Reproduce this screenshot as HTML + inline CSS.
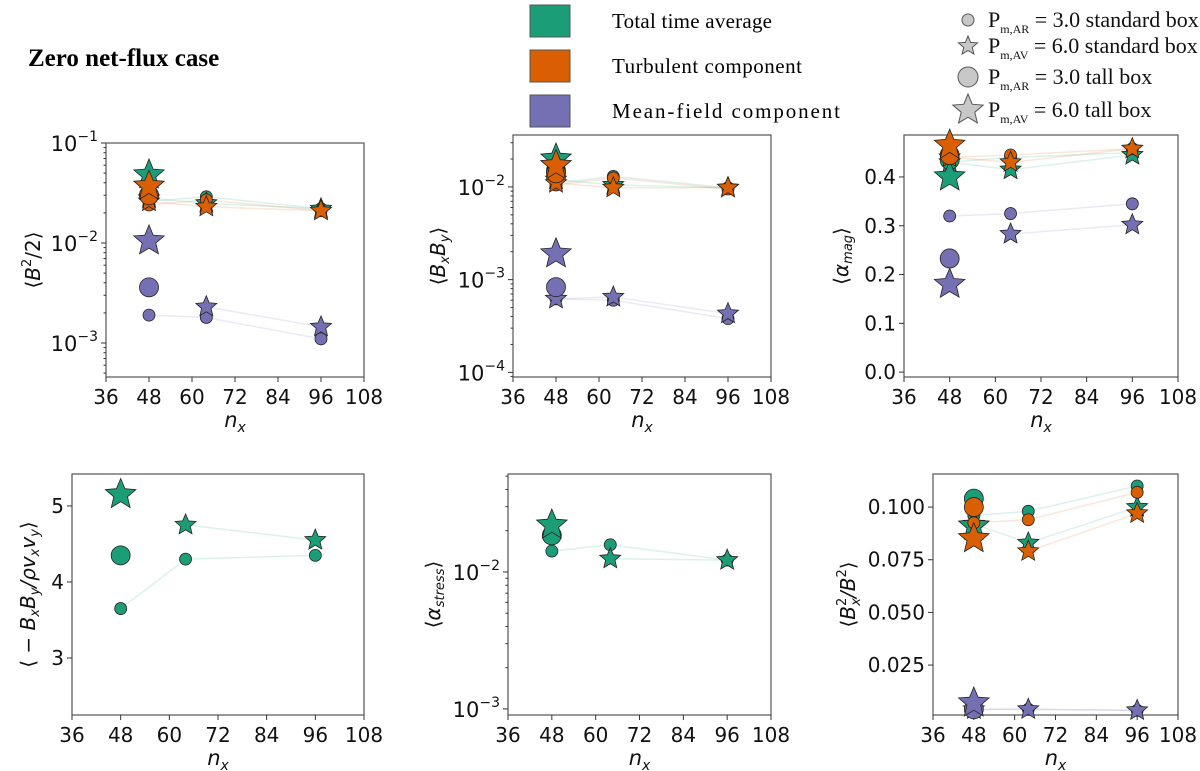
<!DOCTYPE html>
<html><head><meta charset="utf-8"><style>
html,body{margin:0;padding:0;background:#fff;}
svg{display:block;}
text{font-family:"DejaVu Sans","Liberation Sans",sans-serif;}
.serif{font-family:"Liberation Serif",serif;}
</style></head><body>
<svg id="fig" width="1200" height="771" viewBox="0 0 1200 771" xmlns="http://www.w3.org/2000/svg">
<text class="serif" x="28" y="66" font-size="25" font-weight="bold">Zero net-flux case</text>
<g>
<rect x="530" y="5" width="40" height="32" fill="#1b9e77" stroke="#555"/>
<text class="serif" x="612" y="28" font-size="21" textLength="160">Total time average</text>
<rect x="530" y="50" width="40" height="32" fill="#d95f02" stroke="#555"/>
<text class="serif" x="612" y="73" font-size="21" textLength="190">Turbulent component</text>
<rect x="530" y="95" width="40" height="32" fill="#7570b3" stroke="#555"/>
<text class="serif" x="612" y="118" font-size="21" textLength="228">Mean-field component</text>
</g>
<g id="mlegend"></g>
<g id="plots"></g>
</svg>
<script>
const NS="http://www.w3.org/2000/svg";
const colors=["#1b9e77","#d95f02","#7570b3"];
const xTicks=[36,48,60,72,84,96,108];
const nxStd=[48,64,96];
const nxTall=48;
// Panel 1: <B^2/2>  [green, orange, purple]
const p1CircStd=[[0.026,0.029,0.022],[0.024,0.027,0.021],[0.0019,0.0018,0.0011]];
const p1StarStd=[[0.028,0.025,0.022],[0.026,0.023,0.021],[null,0.0023,0.00145]];
const p1CircTall=[0.030,0.030,0.0036];
const p1StarTall=[0.048,0.037,0.0105];
// Panel 2: <BxBy>
const p2CircStd=[[0.011,0.013,0.0098],[0.0105,0.0125,0.0095],[0.00062,0.0006,0.00038]];
const p2StarStd=[[0.012,0.0105,0.0098],[0.011,0.0098,0.0098],[0.00062,0.00065,0.00043]];
const p2CircTall=[0.015,0.014,0.00083];
const p2StarTall=[0.020,0.017,0.0019];
// Panel 3: <alpha_mag>
const p3CircStd=[[0.43,0.44,0.45],[0.44,0.445,0.458],[0.32,0.325,0.345]];
const p3StarStd=[[0.43,0.415,0.445],[0.44,0.43,0.458],[null,0.283,0.302]];
const p3CircTall=[0.435,0.445,0.233];
const p3StarTall=[0.40,0.465,0.18];
// Panel 4: <-BxBy/rho vx vy>
const p4CircStd=[[3.65,4.3,4.35]];
const p4StarStd=[[null,4.75,4.55]];
const p4CircTall=[4.35];
const p4StarTall=[5.15];
// Panel 5: <alpha_stress>
const p5CircStd=[[0.0142,0.0158,0.0122]];
const p5StarStd=[[null,0.0125,0.0122]];
const p5CircTall=[0.0185];
const p5StarTall=[0.022];
// Panel 6: <Bx^2/B^2>
const p6CircStd=[[0.096,0.098,0.110],[0.0925,0.094,0.107],[0.004,0.004,0.0035]];
const p6StarStd=[[0.092,0.083,0.100],[null,0.079,0.097],[0.004,0.004,0.0035]];
const p6CircTall=[0.104,0.100,0.004];
const p6StarTall=[0.091,0.085,0.007];
const logTicks1=[-3,-2,-1];
const logTicks2=[-4,-3,-2];
const logTicks5=[-3,-2];
const linTicks3=["0.0","0.1","0.2","0.3","0.4"];
const linTicks4=["3","4","5"];
const linTicks6=["0.025","0.050","0.075","0.100"];

function el(tag,attrs,parent){const e=document.createElementNS(NS,tag);for(const k in attrs)e.setAttribute(k,attrs[k]);(parent||document.getElementById('plots')).appendChild(e);return e;}
function starPts(cx,cy,R){const r=R*0.45;let p=[];for(let i=0;i<10;i++){const a=-Math.PI/2+i*Math.PI/5;const rr=i%2?r:R;p.push((cx+rr*Math.cos(a)).toFixed(1)+","+(cy+rr*Math.sin(a)).toFixed(1));}return p.join(" ");}

function panel(cfg){
  const g=el('g',{});
  
  
  const {x0,x1,y0,y1,log,ymin,ymax}=cfg;
  const sx=v=>x0+(v-36)/(108-36)*(x1-x0);
  const sy=v=>{const t=log?Math.log10(v):v;return y1-(t-ymin)/(ymax-ymin)*(y1-y0);};
  const fr=el('rect',{x:x0,y:y0,width:x1-x0,height:y1-y0,fill:'none',stroke:'#555','stroke-width':1.2},g);
  
  
  xTicks.forEach(t=>{const X=sx(t);el('line',{x1:X,x2:X,y1:y1,y2:y1+5,stroke:'#333'},g);
    const tx=el('text',{x:X,y:y1+27,'font-size':20,'text-anchor':'middle',fill:'#111'},g);tx.textContent=t;
    
    });
  const xl=el('text',{x:(x0+x1)/2,y:y1+50,'font-size':21,'text-anchor':'middle','font-style':'italic',fill:'#111'},g);
  xl.innerHTML='n<tspan font-size="14" dy="5">x</tspan>';
  
  
  if(log){
    for(let d=Math.floor(ymin);d<=Math.ceil(ymax);d++){
      for(let m=1;m<10;m++){const v=Math.log10(m)+d;if(v<ymin||v>ymax)continue;const Y=y1-(v-ymin)/(ymax-ymin)*(y1-y0);
        el('line',{x1:x0-(m==1?5:2.5),x2:x0,y1:Y,y2:Y,stroke:'#333'},g);}
    }
    cfg.ticks.forEach(t=>{const Y=y1-(t-ymin)/(ymax-ymin)*(y1-y0);
      const tx=el('text',{x:x0-8,y:Y+8,'font-size':21,'text-anchor':'end',fill:'#111'},g);
      tx.innerHTML='10<tspan font-size="14" dy="-10">−'+(-t)+'</tspan>';
      
      });
  } else {
    cfg.ticks.forEach(s=>{const Y=sy(parseFloat(s));el('line',{x1:x0-5,x2:x0,y1:Y,y2:Y,stroke:'#333'},g);
      const tx=el('text',{x:x0-8,y:Y+7,'font-size':20,'text-anchor':'end',fill:'#111'},g);tx.textContent=s;
      
      });
  }
  const yl=el('text',{x:0,y:0,'font-size':20,'text-anchor':'middle',fill:'#111',transform:`translate(${cfg.ylx},${(y0+y1)/2}) rotate(-90)`},g);
  yl.innerHTML=cfg.ylabel;
  
  
  const comps=cfg.circ.length;
  for(let c=0;c<comps;c++){
    [cfg.circ[c],cfg.star[c]].forEach(arr=>{
      const pts=[];arr.forEach((v,i)=>{if(v!=null)pts.push(sx(nxStd[i]).toFixed(1)+","+sy(v).toFixed(1));});
      const pl=el('polyline',{points:pts.join(' '),fill:'none',stroke:colors[c],'stroke-opacity':0.15,'stroke-width':1.5},g);
      
      
    });
  }
  for(let c=0;c<comps;c++){
    cfg.circ[c].forEach((v,i)=>{if(v==null)return;const m=el('circle',{cx:sx(nxStd[i]),cy:sy(v),r:6,fill:colors[c],stroke:'#222','stroke-width':0.8},g);
      
      });
    cfg.star[c].forEach((v,i)=>{if(v==null)return;const m=el('polygon',{points:starPts(sx(nxStd[i]),sy(v),11),fill:colors[c],stroke:'#222','stroke-width':0.8},g);
      
      });
    const mc=el('circle',{cx:sx(nxTall),cy:sy(cfg.circTall[c]),r:9.5,fill:colors[c],stroke:'#222','stroke-width':0.8},g);
    
    
    const ms=el('polygon',{points:starPts(sx(nxTall),sy(cfg.starTall[c]),16),fill:colors[c],stroke:'#222','stroke-width':0.8},g);
    
    
  }
}
panel({name:'panel-b2',x0:106,x1:364,y0:143,y1:377,log:true,ymin:-3.34,ymax:-1,ticks:logTicks1,ylx:40,ylabel:'⟨<tspan font-style="italic">B</tspan><tspan font-size="13" dy="-9">2</tspan><tspan dy="9">/2⟩</tspan>',circ:p1CircStd,star:p1StarStd,circTall:p1CircTall,starTall:p1StarTall});
panel({name:'panel-bxby',x0:513,x1:771,y0:135,y1:377,log:true,ymin:-4.05,ymax:-1.44,ticks:logTicks2,ylx:445,ylabel:'⟨<tspan font-style="italic">B</tspan><tspan font-size="13" dy="4" font-style="italic">x</tspan><tspan dy="-4" font-style="italic">B</tspan><tspan font-size="13" dy="4" font-style="italic">y</tspan><tspan dy="-4">⟩</tspan>',circ:p2CircStd,star:p2StarStd,circTall:p2CircTall,starTall:p2StarTall});
panel({name:'panel-alpha-mag',x0:904,x1:1178,y0:135,y1:377,log:false,ymin:-0.01,ymax:0.486,ticks:linTicks3,ylx:848,ylabel:'⟨<tspan font-style="italic">α</tspan><tspan font-size="13" dy="4" font-style="italic">mag</tspan><tspan dy="-4">⟩</tspan>',circ:p3CircStd,star:p3StarStd,circTall:p3CircTall,starTall:p3StarTall});
panel({name:'panel-ratio',x0:72,x1:364,y0:474,y1:715,log:false,ymin:2.25,ymax:5.42,ticks:linTicks4,ylx:35,ylabel:'⟨ − <tspan font-style="italic">B</tspan><tspan font-size="13" dy="4" font-style="italic">x</tspan><tspan dy="-4" font-style="italic">B</tspan><tspan font-size="13" dy="4" font-style="italic">y</tspan><tspan dy="-4" font-style="italic">/ρv</tspan><tspan font-size="13" dy="4" font-style="italic">x</tspan><tspan dy="-4" font-style="italic">v</tspan><tspan font-size="13" dy="4" font-style="italic">y</tspan><tspan dy="-4">⟩</tspan>',circ:p4CircStd,star:p4StarStd,circTall:p4CircTall,starTall:p4StarTall});
panel({name:'panel-alpha-stress',x0:508,x1:771,y0:474,y1:715,log:true,ymin:-3.044,ymax:-1.285,ticks:logTicks5,ylx:440,ylabel:'⟨<tspan font-style="italic">α</tspan><tspan font-size="13" dy="4" font-style="italic">stress</tspan><tspan dy="-4">⟩</tspan>',circ:p5CircStd,star:p5StarStd,circTall:p5CircTall,starTall:p5StarTall});
panel({name:'panel-bx2-b2',x0:933,x1:1178,y0:474,y1:715,log:false,ymin:0.0013,ymax:0.1157,ticks:linTicks6,ylx:855,ylabel:'⟨<tspan font-style="italic">B</tspan><tspan font-size="13" dy="-9">2</tspan><tspan font-size="13" dx="-8" dy="14" font-style="italic">x</tspan><tspan dy="-5" font-style="italic">/B</tspan><tspan font-size="13" dy="-9">2</tspan><tspan dy="9">⟩</tspan>',circ:p6CircStd,star:p6StarStd,circTall:p6CircTall,starTall:p6StarTall});

const ml=document.getElementById('mlegend');
const rows=[{y:20,t:'c',s:6,sub:'m,AR',v:'3.0 standard box'},{y:46,t:'s',s:10,sub:'m,AV',v:'6.0 standard box'},{y:77,t:'c',s:10,sub:'m,AR',v:'3.0 tall box'},{y:110,t:'s',s:16,sub:'m,AV',v:'6.0 tall box'}];
rows.forEach(r=>{
  let m;
  if(r.t=='c') m=el('circle',{cx:968,cy:r.y,r:r.s,fill:'#c8c8c8',stroke:'#555'},ml);
  else m=el('polygon',{points:starPts(968,r.y,r.s),fill:'#c8c8c8',stroke:'#555'},ml);
  
  
  const t=el('text',{x:988,y:r.y+7,'font-size':22,fill:'#111',class:'serif'},ml);
  t.innerHTML='P<tspan font-size="12" dy="6">'+r.sub+'</tspan><tspan dy="-6"> = '+r.v+'</tspan>';
  
  
});
</script>
</body></html>
